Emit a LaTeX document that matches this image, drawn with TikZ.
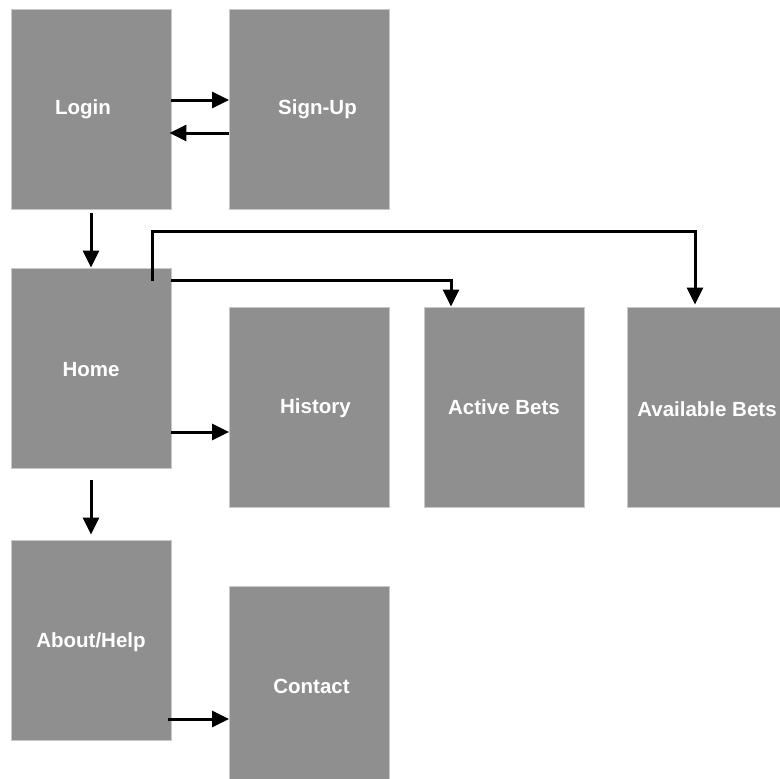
\documentclass[tikz,border=0pt]{standalone}
\usepackage{fontspec}
\setmainfont{Liberation Sans}
\usetikzlibrary{arrows.meta,calc}
\definecolor{boxgray}{RGB}{143,143,143}
\definecolor{boxedge}{RGB}{200,200,200}
\tikzset{
  pagebox/.style={rectangle, fill=boxgray, draw=boxedge, line width=0.8pt,
    minimum width=160pt, minimum height=200pt, inner sep=0pt},
  pagetext/.style={text=white, font=\bfseries\fontsize{20.5}{24}\selectfont, inner sep=0pt},
  arr/.style={line width=3pt, -{Triangle[length=17pt,width=16pt]}}
}
\begin{document}
\begin{tikzpicture}[x=1pt,y=-1pt]
\useasboundingbox (0,0) rectangle (780,779);
\clip (0,0) rectangle (780,779);
\node[pagebox, label={[pagetext, xshift=-8pt]center:Login}] (login) at (91,109) {};
\node[pagebox, label={[pagetext, xshift=8pt]center:Sign-Up}] (signup) at (309.5,109) {};
\node[pagebox, label={[pagetext, yshift=-2pt]center:Home}] (home) at (91,368) {};
\node[pagebox, label={[pagetext, xshift=6pt, yshift=-1pt]center:History}] (history) at (309.5,407) {};
\node[pagebox, label={[pagetext]center:Active Bets}] (active) at (504,407) {};
\node[pagebox, label={[pagetext, yshift=-2pt]center:Available Bets}] (available) at (707,407) {};
\node[pagebox, label={[pagetext, yshift=-2pt]center:About/Help}] (about) at (91,640) {};
\node[pagebox, label={[pagetext, xshift=2pt]center:Contact}] (contact) at (309.5,686) {};
% Login <-> Sign-Up
\draw[arr] ([yshift=9pt]login.east) -- ([yshift=9pt]signup.west);
\draw[arr] ([yshift=-24pt]signup.west) -- ([xshift=-2pt,yshift=-24pt]login.east);
% Login -> Home
\draw[arr, shorten <=4pt] (login.south) -- (home.north);
% Home -> Active Bets
\draw[arr] ([yshift=88pt]home.east) -| ([xshift=-53pt]active.north);
% Home -> Available Bets
\draw[arr, shorten >=2pt] ([xshift=-19pt,yshift=87pt]home.east) |- ($(available.north)+(-12pt,75pt)$) -- ([xshift=-12pt]available.north);
% Home -> History
\draw[arr] ([yshift=-64pt]home.east) -- ([yshift=-25pt]history.west);
% Home -> About/Help
\draw[arr, shorten <=12pt, shorten >=5pt] (home.south) -- (about.north);
% About/Help -> Contact
\draw[arr] ([xshift=-3pt,yshift=-79pt]about.east) -- ([yshift=-33pt]contact.west);
\end{tikzpicture}
\end{document}
